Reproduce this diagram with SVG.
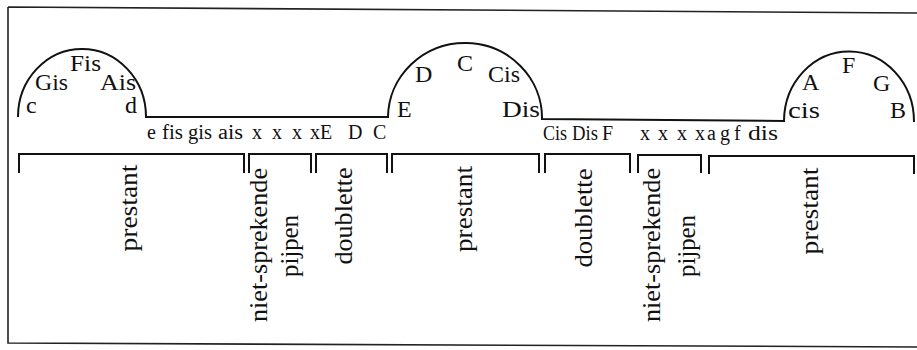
<svg xmlns="http://www.w3.org/2000/svg" width="917" height="350" viewBox="0 0 917 350">
<style>
.ln{fill:none;stroke:#111;stroke-width:2;stroke-linejoin:miter;stroke-linecap:butt}
.fr{fill:none;stroke:#222;stroke-width:1.6}
.hl{font-family:"Liberation Serif","Times New Roman",serif;font-size:24px;fill:#111}
.nt{font-family:"Liberation Serif","Times New Roman",serif;font-size:20px;fill:#111}
.vl{font-family:"Liberation Serif","Times New Roman",serif;font-size:25px;fill:#111;text-anchor:middle}
</style>
<rect width="917" height="350" fill="#fff"/>
<path class="fr" d="M8,7 L918,13 M8,7 L8,343 L918,347"/>
<g id="profile">
<path class="ln" d="M18,117 A64,68 0 0 1 146,117 L388,117 A77,75 0 0 1 542,119 L784,121 A65,70 0 0 1 914,122"/>
</g>
<g id="hump-left">
<text class="hl" x="26" y="113">c</text>
<text class="hl" x="35" y="90" textLength="33" lengthAdjust="spacingAndGlyphs">Gis</text>
<text class="hl" x="70" y="71" textLength="31" lengthAdjust="spacingAndGlyphs">Fis</text>
<text class="hl" x="100" y="90" textLength="36" lengthAdjust="spacingAndGlyphs">Ais</text>
<text class="hl" x="125" y="113">d</text>
</g>
<g id="hump-middle">
<text class="hl" x="397" y="117">E</text>
<text class="hl" x="415" y="82">D</text>
<text class="hl" x="457" y="71">C</text>
<text class="hl" x="488" y="82" textLength="32" lengthAdjust="spacingAndGlyphs">Cis</text>
<text class="hl" x="502" y="117" textLength="38" lengthAdjust="spacingAndGlyphs">Dis</text>
</g>
<g id="hump-right">
<text class="hl" x="788" y="118" textLength="32" lengthAdjust="spacingAndGlyphs">cis</text>
<text class="hl" x="802" y="90">A</text>
<text class="hl" x="842" y="73">F</text>
<text class="hl" x="873" y="91">G</text>
<text class="hl" x="890" y="118">B</text>
</g>
<g id="notes-left">
<text class="nt" x="147" y="139">e</text>
<text class="nt" x="162" y="139" textLength="21" lengthAdjust="spacingAndGlyphs">fis</text>
<text class="nt" x="188" y="139" textLength="24" lengthAdjust="spacingAndGlyphs">gis</text>
<text class="nt" x="218" y="139" textLength="25" lengthAdjust="spacingAndGlyphs">ais</text>
<text class="nt" x="252" y="139">x</text>
<text class="nt" x="272" y="139">x</text>
<text class="nt" x="292" y="139">x</text>
<text class="nt" x="310" y="139">x</text>
<text class="nt" x="320" y="139">E</text>
<text class="nt" x="348" y="139">D</text>
<text class="nt" x="373" y="139">C</text>
</g>
<g id="notes-right">
<text class="nt" x="543" y="140" textLength="24" lengthAdjust="spacingAndGlyphs">Cis</text>
<text class="nt" x="572" y="140" textLength="26" lengthAdjust="spacingAndGlyphs">Dis</text>
<text class="nt" x="602" y="140">F</text>
<text class="nt" x="640" y="140">x</text>
<text class="nt" x="658" y="140">x</text>
<text class="nt" x="677" y="140">x</text>
<text class="nt" x="695" y="140">x</text>
<text class="nt" x="707" y="140">a</text>
<text class="nt" x="720" y="140">g</text>
<text class="nt" x="734" y="140">f</text>
<text class="nt" x="748" y="140" textLength="30" lengthAdjust="spacingAndGlyphs">dis</text>
</g>
<g id="sec1">
<path class="ln" d="M19,173 V154 H244 V173"/>
<text class="vl" transform="translate(137,208) rotate(-90)" textLength="87" lengthAdjust="spacingAndGlyphs">prestant</text>
</g>
<g id="sec2">
<path class="ln" d="M249,173 V154 H311 V173"/>
<text class="vl" transform="translate(267,245) rotate(-90)" textLength="154" lengthAdjust="spacingAndGlyphs">niet-sprekende</text>
<text class="vl" transform="translate(298,246) rotate(-90)" textLength="62" lengthAdjust="spacingAndGlyphs">pijpen</text>
</g>
<g id="sec3">
<path class="ln" d="M316,173 V154 H387 V173"/>
<text class="vl" transform="translate(352,216) rotate(-90)" textLength="97" lengthAdjust="spacingAndGlyphs">doublette</text>
</g>
<g id="sec4">
<path class="ln" d="M392,173 V154 H539 V173"/>
<text class="vl" transform="translate(472,209) rotate(-90)" textLength="86" lengthAdjust="spacingAndGlyphs">prestant</text>
</g>
<g id="sec5">
<path class="ln" d="M545,173 V154 H630 V173"/>
<text class="vl" transform="translate(592,218) rotate(-90)" textLength="99" lengthAdjust="spacingAndGlyphs">doublette</text>
</g>
<g id="sec6">
<path class="ln" d="M638,173 V155 H701 V173"/>
<text class="vl" transform="translate(660,245) rotate(-90)" textLength="154" lengthAdjust="spacingAndGlyphs">niet-sprekende</text>
<text class="vl" transform="translate(695,246) rotate(-90)" textLength="62" lengthAdjust="spacingAndGlyphs">pijpen</text>
</g>
<g id="sec7">
<path class="ln" d="M709,174 V156 H914 V174"/>
<text class="vl" transform="translate(818,211) rotate(-90)" textLength="87" lengthAdjust="spacingAndGlyphs">prestant</text>
</g>
</svg>
